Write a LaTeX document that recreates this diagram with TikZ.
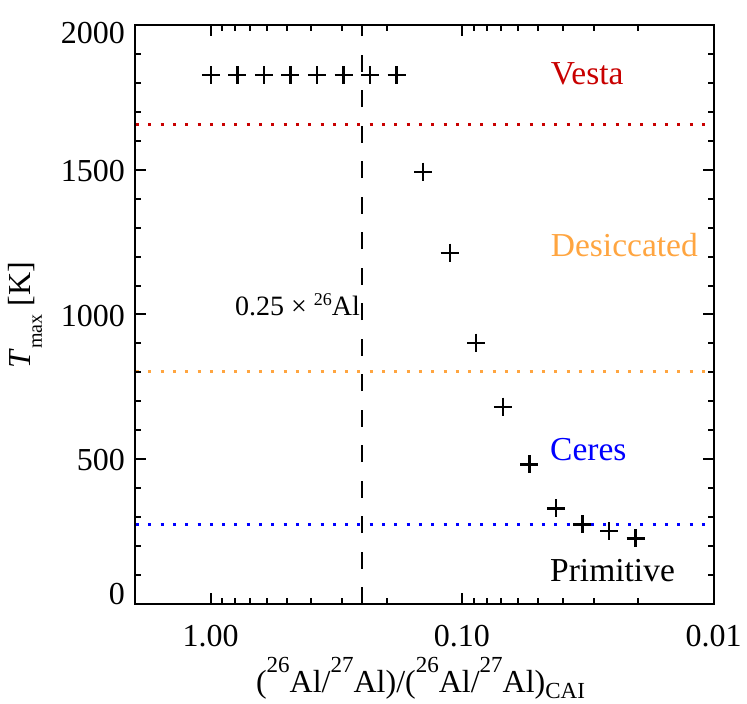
\documentclass[tikz,border=0pt]{standalone}
\usepackage{fontspec}
\setmainfont{Liberation Serif}
\definecolor{vred}{RGB}{200,0,0}
\definecolor{dorange}{RGB}{255,165,64}
\definecolor{cblue}{RGB}{0,0,255}
\newcommand\xsup[1]{\raisebox{20pt}{\fontsize{23}{23}\selectfont #1}}
\newcommand\xsub[1]{\raisebox{-6pt}{\fontsize{23}{23}\selectfont #1}}
\newcommand\ysub[1]{\raisebox{-12pt}{\fontsize{20}{20}\selectfont #1}}
\newcommand\lsup[1]{\raisebox{10pt}{\fontsize{18}{18}\selectfont #1}}
\begin{document}
\begin{tikzpicture}[x=1pt,y=-1pt,
  frame/.style={line width=2.6pt,line cap=rect},
  tickln/.style={line width=2pt},
  ptmark/.style={line width=2.4pt},
  dotln/.style={line width=3pt,dash pattern=on 3pt off 9.3pt},
  dashln/.style={line width=2.5pt,dash pattern=on 17pt off 18.5pt},
  ticklab/.style={inner sep=0pt,font=\fontsize{32}{38}\selectfont},
  zonelab/.style={inner sep=0pt,anchor=base west,font=\fontsize{33.5}{40}\selectfont},
  pmark/.pic={\draw[ptmark] (-9,0)--(9,0) (0,-9)--(0,9);}
]
\useasboundingbox (0,0) rectangle (747,704);
% threshold lines
\draw[dotln,vred] (136,124) -- (714,124);
\draw[dotln,dorange] (136,371.7) -- (714,371.7);
\draw[dotln,cblue] (136,524.3) -- (714,524.3);
% 0.25 dashed line
\coordinate (dbot) at (362,604);
\coordinate (dtop) at (362,25);
\draw[dashln] (dbot) -- (dtop);
% frame
\draw[frame] (135,25) rectangle (714,604);
% x ticks (log, reversed)
\foreach \xx in {210.75,462.38} {
  \draw[tickln] (\xx,604) -- (\xx,593);
  \draw[tickln] (\xx,25) -- (\xx,36);
}
\foreach \d in {0,1} {
  \foreach \m in {2,...,9} {
    \pgfmathsetmacro\xx{210.75+251.63*(\d+1-ln(\m)/ln(10))}
    \draw[tickln] (\xx,604) -- (\xx,598);
    \draw[tickln] (\xx,25) -- (\xx,31);
  }
}
% y ticks
\foreach \t in {100,200,...,1900} {
  \pgfmathsetmacro\yy{604-\t*0.2895}
  \draw[tickln] (135,\yy) -- (141,\yy);
  \draw[tickln] (714,\yy) -- (708,\yy);
}
\foreach \t in {500,1000,1500} {
  \pgfmathsetmacro\yy{604-\t*0.2895}
  \draw[tickln] (135,\yy) -- (146,\yy);
  \draw[tickln] (714,\yy) -- (703,\yy);
}
% tick labels
\node[ticklab,anchor=base east] (y2000) at (125,43.3) {2000};
\node[ticklab,anchor=base east] (y1500) at (125,181) {1500};
\node[ticklab,anchor=base east] (y1000) at (125,326) {1000};
\node[ticklab,anchor=base east] (y500) at (125,470.5) {500};
\node[ticklab,anchor=base east] (y0) at (125,604.3) {0};
\node[ticklab,anchor=base] (x100) at (210.6,646.7) {1.00};
\node[ticklab,anchor=base] (x010) at (461.8,646.7) {0.10};
\node[ticklab,anchor=base] (x001) at (713.5,646.7) {0.01};
% axis titles
\node[inner sep=0pt,anchor=base,font=\fontsize{32}{38}\selectfont] (xtitle) at (420.5,692)
  {(\xsup{26}Al/\xsup{27}Al)/(\xsup{26}Al/\xsup{27}Al)\xsub{CAI}};
\node[inner sep=0pt,anchor=base,rotate=90,font=\fontsize{32}{38}\selectfont] (ytitle) at (30,315)
  {\textit{T}\ysub{max} [K]};
% zone labels
\node[zonelab,text=vred] (vesta) at (550.7,84) {Vesta};
\node[zonelab,text=dorange] (desic) at (550.7,256.7) {Desiccated};
\node[zonelab,text=cblue] (ceres) at (550,460) {Ceres};
\node[zonelab,text=black] (prim) at (550,581) {Primitive};
\node[inner sep=0pt,anchor=base east,font=\fontsize{28}{34}\selectfont] (qlab) at (360,315)
  {0.25 × \lsup{26}Al};
% data points
\foreach \n in {0,...,7} {
  \pic at ({210.75+26.55*\n},75) {pmark};
}
\foreach \n/\yy in {8/171.7,9/252.7,10/342.7,11/406.7,12/464.3,13/508.3,14/524.3,15/531,16/538.3} {
  \pic at ({210.75+26.55*\n},\yy) {pmark};
}
\end{tikzpicture}
\end{document}
